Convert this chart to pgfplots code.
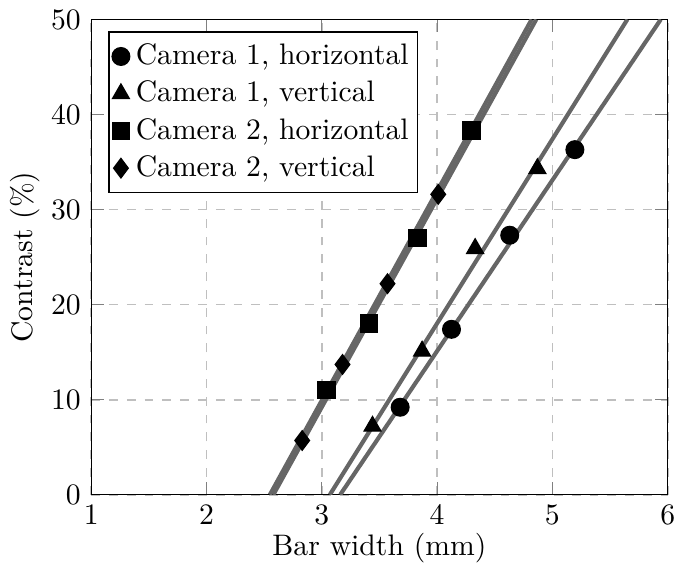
\documentclass[border=0pt]{standalone}
\usepackage{pgfplots}
\pgfplotsset{compat=1.18}

\begin{document}
\begin{tikzpicture}
\begin{axis}[
  scale only axis,
  width=6.83cm,height=5.63cm,
  xmin=1,xmax=6,ymin=0,ymax=50,
  xtick={1,2,3,4,5,6},ytick={0,10,20,30,40,50},
  xlabel={Bar width (mm)},ylabel={Contrast (\%)},
  xlabel style={yshift=4pt},
  ylabel style={yshift=-3pt},
  grid=major,
  major grid style={dashed,black!25,line width=0.6pt},
  legend style={at={(0.03,0.975)},anchor=north west,font=\normalsize,
    legend cell align=left,inner xsep=1pt,inner ysep=2pt},
  fit/.style={black!60,line width=1.4pt,forget plot},
]
% fitted lines
\addplot[fit] coordinates {(3.16,0) (5.94,50)};
\addplot[fit] coordinates {(3.07,0) (5.65,50)};
\addplot[fit] coordinates {(2.58,0) (4.86,50)};
\addplot[fit] coordinates {(2.55,0) (4.82,50)};
% measurements
\addplot[only marks,mark=*,mark size=3.0pt,black] coordinates {
  (3.68,9.2) (4.125,17.4) (4.63,27.3) (5.195,36.3)};
\addlegendentry{Camera 1, horizontal}
\addplot[only marks,mark=triangle*,mark size=3.3pt,black] coordinates {
  (3.44,7.2) (3.87,15.1) (4.33,25.9) (4.87,34.3)};
\addlegendentry{Camera 1, vertical}
\addplot[only marks,mark=square*,mark size=2.9pt,black] coordinates {
  (3.04,11.0) (3.41,18.0) (3.83,27.0) (4.30,38.3)};
\addlegendentry{Camera 2, horizontal}
\addplot[only marks,mark=diamond*,mark size=3.3pt,black] coordinates {
  (2.83,5.7) (3.18,13.7) (3.57,22.2) (4.01,31.6)};
\addlegendentry{Camera 2, vertical}
\end{axis}
\end{tikzpicture}
\end{document}
